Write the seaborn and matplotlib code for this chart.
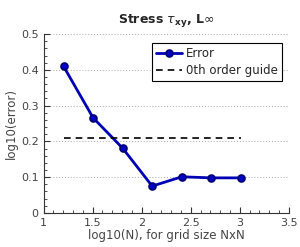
import numpy as np
import pandas as pd
import matplotlib
matplotlib.use("Agg")
import matplotlib.pyplot as plt
import seaborn as sns

# grid sizes N for N x N
grid_n = [16, 32, 64, 128, 256, 512, 1024]
log_error = [0.41, 0.266, 0.181, 0.075, 0.101, 0.098, 0.098]
guide_level = 0.21

x_ticks = [1, 1.5, 2, 2.5, 3, 3.5]
x_tick_labels = ["1", "1.5", "2", "2.5", "3", "3.5"]
y_ticks = [0, 0.1, 0.2, 0.3, 0.4, 0.5]
y_tick_labels = ["0", "0.1", "0.2", "0.3", "0.4", "0.5"]

df = pd.DataFrame({"logN": np.log10(grid_n), "err": log_error})

sns.set_style("white")
plt.rcParams['font.family'] = ['DejaVu Sans']

fig, ax = plt.subplots(figsize=(3.0, 2.47), dpi=100)
fig.subplots_adjust(left=0.145, right=0.963, top=0.862, bottom=0.138)

sns.lineplot(data=df, x="logN", y="err", ax=ax, color="#0000b4", lw=2,
             marker="o", markersize=5, markerfacecolor="#0000c8",
             markeredgecolor="#000070", markeredgewidth=1.2, label="Error")
ax.plot([df["logN"].min(), df["logN"].max()], [guide_level, guide_level],
        color="black", ls=(0, (4, 3)), lw=1.2, label="0th order guide")

ax.set_xticks(x_ticks)
ax.set_xticklabels(x_tick_labels)
ax.set_xticks(np.arange(1, 3.501, 0.1), minor=True)
ax.set_yticks(y_ticks)
ax.set_yticklabels(y_tick_labels)
ax.set_yticks(np.arange(0, 0.501, 0.02), minor=True)
ax.set_xlim(1, 3.5)
ax.set_ylim(0, 0.5)
ax.tick_params(which="both", bottom=True, left=True, top=False, right=False)
ax.tick_params(which="major", direction="in", length=4, width=0.8,
               labelsize=8, labelcolor="#444444", color="#333333")
ax.tick_params(which="minor", direction="in", length=2, width=0.6, color="#333333")
ax.yaxis.grid(True, which="major", ls=(0, (1, 2)), color="#aaaaaa", lw=0.7)

for s in ["top", "right"]:
    ax.spines[s].set_visible(False)
for s in ["left", "bottom"]:
    ax.spines[s].set_color("#333333")
    ax.spines[s].set_linewidth(0.8)

ax.set_xlabel("log10(N), for grid size NxN", fontsize=8.5, color="#444444", labelpad=1)
ax.set_ylabel("log10(error)", fontsize=8.5, color="#444444", labelpad=2)
ax.set_title(r"Stress $\tau_{\mathbf{xy}}$, L$\infty$", fontsize=9, fontweight="bold", pad=8)

leg = ax.legend(loc="upper right", fontsize=8.5, frameon=True, fancybox=False,
                edgecolor="black", framealpha=1, borderpad=0.35, labelspacing=0.35,
                handlelength=2.2, handletextpad=0.3, bbox_to_anchor=(0.995, 0.985))
leg.get_frame().set_linewidth(0.8)

fig.savefig("out.png", dpi=100)
